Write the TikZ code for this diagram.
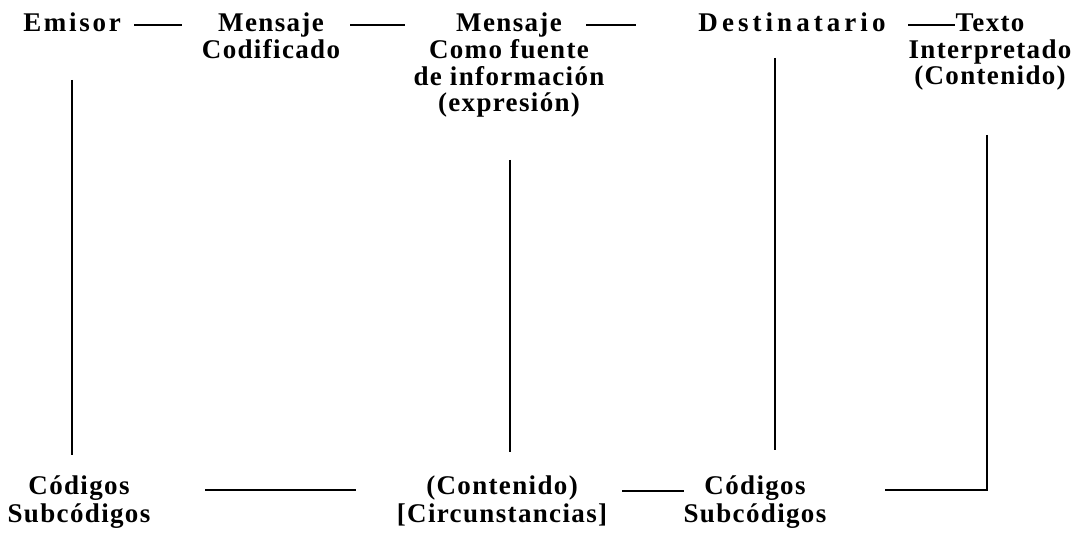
\documentclass[tikz,border=0pt]{standalone}
\usepackage{fontspec}
\setmainfont{Liberation Serif}[LetterSpace=5]
\newcommand\mlines[1]{\begin{tabular}[t]{@{}c@{}}#1\end{tabular}}
\newcommand\wide[1]{\addfontfeature{LetterSpace=#1}}
\begin{document}
\begin{tikzpicture}[x=1pt,y=-1pt,
  lbl/.style={font=\bfseries\fontsize{27}{25.5}\selectfont, anchor=base, inner sep=0pt},
  ln/.style={line width=1.8pt}]
\useasboundingbox (0,0) rectangle (1081,534);
% top row
\node[lbl] (emisor) at (72,32) {\wide{10}\mlines{Emisor}};
\node[lbl] (codif) at (271,32) {\mlines{Mensaje\\Codificado}};
\node[lbl] (fuente) at (509,32) {\mlines{Mensaje\\Como fuente\\de información\\(expresión)}};
\node[lbl] (dest) at (792,32) {\wide{15}\mlines{Destinatario}};
\node[lbl] (texto) at (990,32) {\mlines{Texto\\Interpretado\\(Contenido)}};
% bottom row
\node[lbl] (cod1) at (79,494) {\mlines{Códigos\\[2pt]Subcódigos}};
\node[lbl] (cont) at (502,494) {\mlines{(Contenido)\\[2pt]{[Circunstancias]}}};
\node[lbl] (cod2) at (755,494) {\mlines{Códigos\\[2pt]Subcódigos}};
% top dashes
\coordinate (d1a) at (134,25); \coordinate (d1b) at (182,25);
\coordinate (d2a) at (350,25); \coordinate (d2b) at (405,25);
\coordinate (d3a) at (586,25); \coordinate (d3b) at (636,25);
\coordinate (d4a) at (908,25); \coordinate (d4b) at (955,25);
\draw[ln] (d1a) -- (d1b);
\draw[ln] (d2a) -- (d2b);
\draw[ln] (d3a) -- (d3b);
\draw[ln] (d4a) -- (d4b);
% verticals
\coordinate (v1a) at (72,80);  \coordinate (v1b) at (72,455);
\coordinate (v2a) at (510,160); \coordinate (v2b) at (510,452);
\coordinate (v3a) at (775,58); \coordinate (v3b) at (775,450);
\coordinate (v4a) at (987,135); \coordinate (v4b) at (987,490); \coordinate (v4c) at (885,490);
\draw[ln] (v1a) -- (v1b);
\draw[ln] (v2a) -- (v2b);
\draw[ln] (v3a) -- (v3b);
\draw[ln] (v4a) -- (v4b) -- (v4c);
% bottom lines
\coordinate (b1a) at (205,490); \coordinate (b1b) at (356,490);
\coordinate (b2a) at (622,491); \coordinate (b2b) at (684,491);
\draw[ln] (b1a) -- (b1b);
\draw[ln] (b2a) -- (b2b);
\end{tikzpicture}
\end{document}
